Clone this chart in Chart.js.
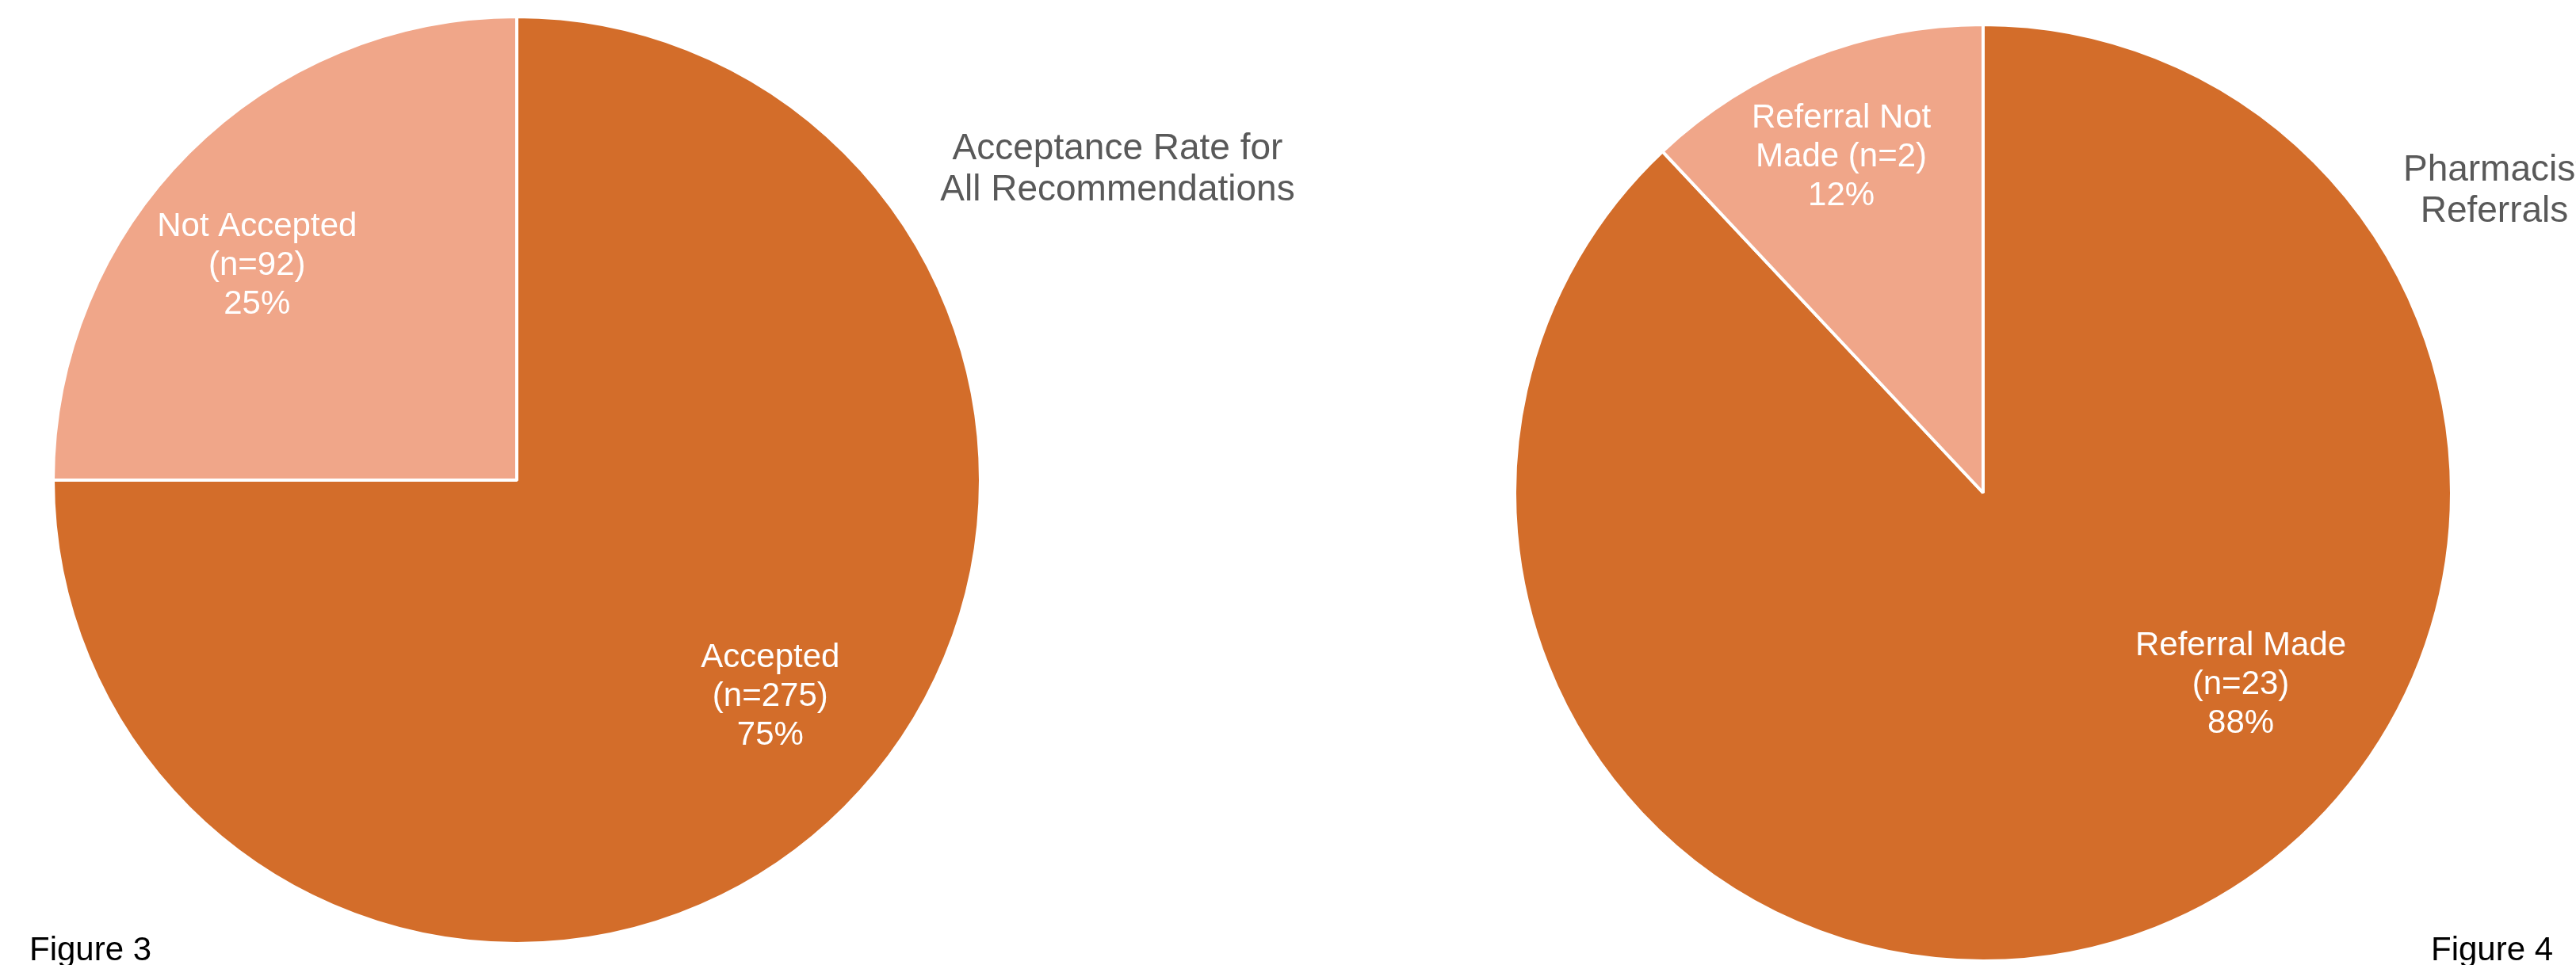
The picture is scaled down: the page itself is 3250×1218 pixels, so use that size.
<!DOCTYPE html>
<html>
<head>
<meta charset="utf-8">
<script src="https://cdn.jsdelivr.net/npm/chart.js@4.4.1/dist/chart.umd.min.js"></script>
<style>
    html, body {
        margin: 0;
        padding: 0;
        background: #fff;
    }
    body {
        position: relative;
        width: 3250px;
        height: 1218px;
        overflow: hidden;
        font-family: "Liberation Sans", Arial, sans-serif;
    }
    .pie {
        position: absolute;
    }
    .title {
        position: absolute;
        width: 600px;
        text-align: center;
        font-size: 46px;
        line-height: 52px;
        color: #595959;
        white-space: nowrap;
    }
    .caption {
        position: absolute;
        font-size: 42px;
        line-height: 48px;
        color: #000;
        white-space: nowrap;
    }
</style>
</head>
<body>

<div class="pie" style="left:65px; top:19px; width:1174px; height:1174px;">
    <canvas id="fig3Chart"></canvas>
</div>
<div class="title" style="left:1110px; top:159px;">Acceptance Rate for<br>All Recommendations</div>
<div class="caption" style="left:37px; top:1174px;">Figure 3</div>

<div class="pie" style="left:1909px; top:29px; width:1186px; height:1186px;">
    <canvas id="fig4Chart"></canvas>
</div>
<div class="title" style="left:2847px; top:186px;">Pharmacist<br>Referrals</div>
<div class="caption" style="left:3067px; top:1174px;">Figure 4</div>

<script>
// Figure 3 - acceptance of recommendations
const fig3Names = ["Accepted", "Not Accepted"];
const fig3Counts = [275, 92];
const fig3Percent = [75, 25];

// Figure 4 - pharmacist referrals
const fig4Names = ["Referral Made", "Referral Not Made"];
const fig4Counts = [23, 2];
const fig4Percent = [88, 12];

const darkOrange = "#D36D2A";
const lightOrange = "#F0A689";

function sliceLines(name, n, pct) {
    // the long one was wrapped by hand in the original
    if (name === "Referral Not Made") return ["Referral Not", "Made (n=" + n + ")", pct + "%"];
    return [name, "(n=" + n + ")", pct + "%"];
}

// draws the white in-slice labels
const sliceLabels = {
    id: "sliceLabels",
    afterDatasetsDraw(chart, args, opts) {
        const ctx = chart.ctx;
        const meta = chart.getDatasetMeta(0);
        const ds = chart.data.datasets[0];
        ctx.save();
        ctx.font = "42px 'Liberation Sans', Arial, sans-serif";
        ctx.fillStyle = "#fff";
        ctx.textAlign = "center";
        ctx.textBaseline = "middle";
        meta.data.forEach((arc, i) => {
            const shift = (opts.shift[i] || 0) * Math.PI / 180;
            const mid = (arc.startAngle + arc.endAngle) / 2 + shift;
            const r = arc.outerRadius * opts.radius[i];
            const x = arc.x + Math.cos(mid) * r;
            const y = arc.y + Math.sin(mid) * r;
            const lines = sliceLines(chart.data.labels[i], ds.counts[i], ds.data[i]);
            lines.forEach((line, k) => {
                ctx.fillText(line, x, y + (k - 1) * 49);
            });
        });
        ctx.restore();
    },
};

function makePie(canvasId, names, counts, percent, labelOpts) {
    return new Chart(document.getElementById(canvasId), {
        type: "pie",
        data: {
            labels: names,
            datasets: [
                {
                    data: percent,
                    counts: counts,
                    backgroundColor: [darkOrange, lightOrange],
                    borderColor: "#fff",
                    borderWidth: 4,
                },
            ],
        },
        options: {
            responsive: true,
            maintainAspectRatio: false,
            animation: false,
            layout: { padding: 0 },
            plugins: {
                legend: { display: false },
                tooltip: { enabled: false },
                sliceLabels: labelOpts,
            },
        },
        plugins: [sliceLabels],
    });
}

makePie("fig3Chart", fig3Names, fig3Counts, fig3Percent, {
    radius: [0.719, 0.726],
    shift: [-4.5, -5.5],
});

makePie("fig4Chart", fig4Names, fig4Counts, fig4Percent, {
    radius: [0.686, 0.778],
    shift: [-31.7, -1.3],
});
</script>
</body>
</html>
